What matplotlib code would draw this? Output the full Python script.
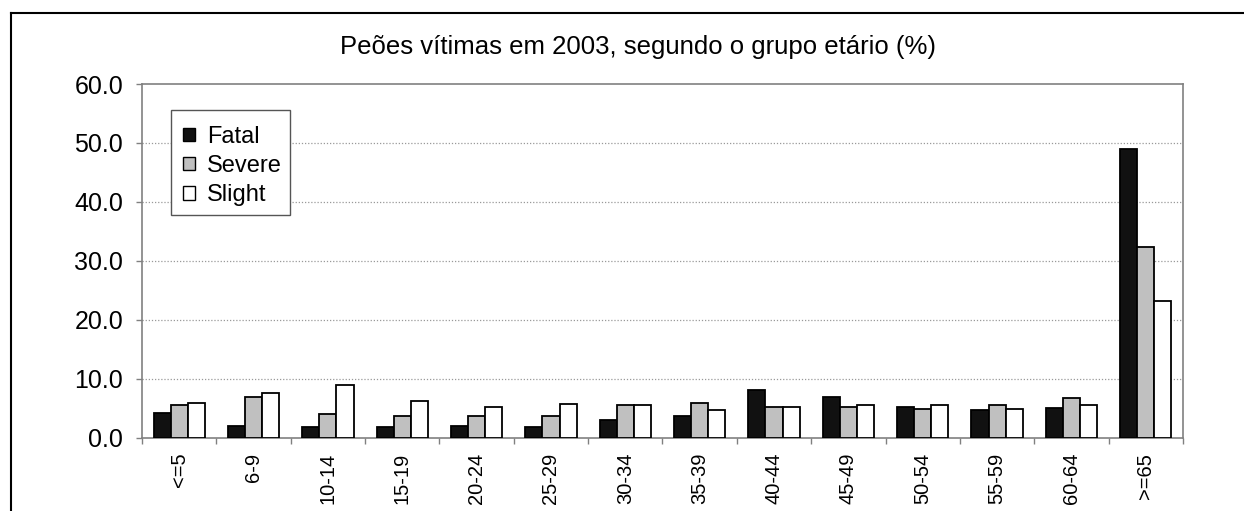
import matplotlib
matplotlib.use("Agg")
import matplotlib.pyplot as plt
import numpy as np
from matplotlib.lines import Line2D
from matplotlib.patches import Rectangle

plt.rcParams['font.family'] = ['Liberation Sans', 'DejaVu Sans']

categories = ["<=5", "6-9", "10-14", "15-19", "20-24", "25-29", "30-34",
              "35-39", "40-44", "45-49", "50-54", "55-59", "60-64", ">=65"]
fatal = [4.2, 2.0, 1.8, 1.8, 2.0, 1.8, 3.0, 3.7, 8.0, 6.9, 5.2, 4.7, 5.0, 48.9]
severe = [5.6, 6.9, 4.0, 3.7, 3.7, 3.7, 5.6, 5.9, 5.1, 5.1, 4.9, 5.6, 6.7, 32.4]
slight = [5.9, 7.6, 8.9, 6.2, 5.2, 5.7, 5.6, 4.7, 5.1, 5.6, 5.6, 4.9, 5.6, 23.2]
series_names = ["Fatal", "Severe", "Slight"]
series_colors = ["#111111", "#c0c0c0", "#ffffff"]
title = "Peões vítimas em 2003, segundo o grupo etário (%)"

W, H = 1244, 511
fig = plt.figure(figsize=(W / 100, H / 100), dpi=100)
ax = fig.add_axes([142 / W, 1 - 437.5 / H, (1183 - 142) / W, (437.5 - 84) / H])

x = np.arange(len(categories))
bw = 0.23
for i, (vals, col, name) in enumerate(zip([fatal, severe, slight], series_colors, series_names)):
    ax.bar(x + (i - 1) * bw, vals, width=bw, color=col, edgecolor="black",
           linewidth=1.3, label=name, zorder=3)

ax.set_xlim(-0.5, len(categories) - 0.5)
ax.set_ylim(0, 60)
ax.set_yticks(np.arange(0, 61, 10))
ax.set_yticklabels([f"{v:.1f}" for v in np.arange(0, 61, 10)], fontsize=18)
ax.set_xticks(x)
ax.set_xticklabels(categories, rotation=90, fontsize=14.5)
ax.tick_params(axis='x', length=0, pad=11)
# category separator ticks
ax.set_xticks(np.arange(-0.5, len(categories), 1), minor=True)
ax.tick_params(axis='x', which='minor', length=4.5, color="#808080", width=1)
ax.tick_params(axis='y', length=4.5, color="#808080", width=1, pad=9)

for y in range(10, 60, 10):
    ax.axhline(y, color="#999999", linestyle=(0, (1, 1.5)), linewidth=0.9, zorder=1)

for s in ax.spines.values():
    s.set_color("#808080")
    s.set_linewidth(1.2)

# legend box drawn manually
ax.add_patch(Rectangle((171 / W, 1 - 215 / H), (290 - 171) / W, (215 - 110) / H,
                       transform=fig.transFigure, facecolor="white", edgecolor="#555555",
                       linewidth=1.0, zorder=4, clip_on=False))
leg = ax.legend(loc="upper left", bbox_to_anchor=(183 / W, 1 - 126 / H),
                bbox_transform=fig.transFigure,
                fontsize=17, frameon=False, handlelength=0.52, handleheight=0.5,
                handletextpad=0.5, borderpad=0, labelspacing=0.3, borderaxespad=0)
leg.set_zorder(5)
for h in leg.legend_handles:
    h.set_linewidth(1.0)

fig.text(638 / W, 1 - 47 / H, title, ha="center", va="center", fontsize=18.5)

# outer frame: top and left lines
fig.add_artist(Line2D([11 / W, 1.0], [1 - 13 / H, 1 - 13 / H], color="black", linewidth=1.5, transform=fig.transFigure))
fig.add_artist(Line2D([11 / W, 11 / W], [0, 1 - 13 / H], color="black", linewidth=1.5, transform=fig.transFigure))

fig.savefig("out.png", dpi=100)
